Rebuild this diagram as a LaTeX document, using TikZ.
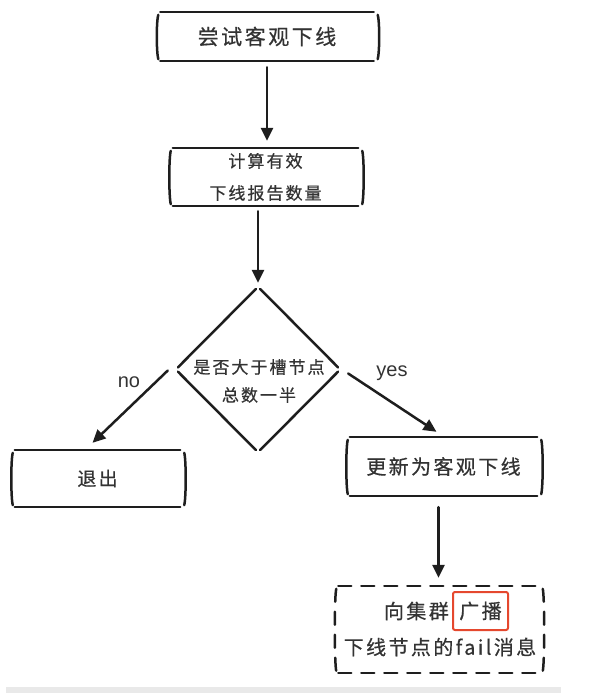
\documentclass[tikz,border=0pt]{standalone}
\usepackage{fontspec}
\setmainfont{Liberation Sans}
\newfontfamily\cjk[LetterSpace=12,FakeBold=0.6]{Noto Sans CJK SC}
\usetikzlibrary{arrows.meta,shapes.geometric}
\definecolor{ink}{HTML}{1E1E1E}
\definecolor{txt}{HTML}{333333}
\definecolor{redbox}{HTML}{E5482E}
\definecolor{barg}{HTML}{E9E9E9}
\tikzset{
  inkline/.style={draw=ink,line width=2.5pt,line cap=round},
  arr/.style={inkline,-{Triangle[length=13pt,width=12pt]}},
  skbox/.style={inner sep=0pt,text=txt,align=center},
  lbl/.style={text=txt,font=\fontsize{20}{24}\selectfont}
}
\newcommand\skdraw[2][]{%
  \draw[inkline,#1] (#2.north west) -- (#2.north east);
  \draw[inkline,#1] (#2.south west) -- (#2.south east);
  \draw[inkline,#1] ([xshift=-2pt,yshift=-3pt]#2.north west) .. controls ([xshift=-4pt,yshift=-9pt]#2.north west) and ([xshift=-4pt,yshift=9pt]#2.south west) .. ([xshift=-2pt,yshift=2pt]#2.south west);
  \draw[inkline,#1] ([xshift=4pt,yshift=-3pt]#2.north east) .. controls ([xshift=6pt,yshift=-9pt]#2.north east) and ([xshift=6pt,yshift=9pt]#2.south east) .. ([xshift=4pt,yshift=2pt]#2.south east);
}
\begin{document}
\begin{tikzpicture}[x=1pt,y=-1pt]
\useasboundingbox (0,0) rectangle (604,694);
\fill[barg] (6,687) rectangle (561,693);

% boxes
\node[skbox,minimum width=213pt,minimum height=49pt,font=\cjk\fontsize{21}{26}\selectfont] (b1) at (267,36.5) {尝试客观下线};
\skdraw{b1}
\node[skbox,minimum width=185pt,minimum height=58pt,font=\cjk\fontsize{17}{32}\selectfont] (b2) at (265.5,177) {计算有效\\下线报告数量};
\skdraw{b2}
\node[draw=none,shape=diamond,minimum width=164pt,minimum height=165pt,inner sep=0pt] (d) at (258,369.5) {};
\draw[inkline,shorten <=3pt,shorten >=3pt] (d.north) -- (d.west);
\draw[inkline,shorten <=3pt,shorten >=3pt] (d.west) -- (d.south);
\draw[inkline,shorten <=3pt,shorten >=3pt] (d.south) -- (d.east);
\draw[inkline,shorten <=3pt,shorten >=3pt] (d.east) -- (d.north);
\node[skbox,font=\cjk\fontsize{17}{28}\selectfont] (dt) at (259,381) {是否大于槽节点\\总数一半};
\node[skbox,minimum width=165pt,minimum height=57pt,font=\cjk\fontsize{19}{24}\selectfont] (ex) at (97.5,478.5) {退出};
\skdraw{ex}
\node[skbox,minimum width=187pt,minimum height=59pt,font=\cjk\fontsize{20}{24}\selectfont] (up) at (443.5,466.5) {更新为客观下线};
\skdraw{up}
\node[skbox,minimum width=200pt,minimum height=87pt] (db) at (438.5,629.5) {};
\skdraw[dash pattern=on 13pt off 10pt]{db}
\node[draw=redbox,line width=2pt,rounded corners=2pt,minimum width=55pt,minimum height=38pt,inner sep=0pt,text=txt,font=\cjk\fontsize{20}{24}\selectfont] (bc) at (480.5,611) {广播};
\node[skbox,anchor=east,font=\cjk\fontsize{20}{24}\selectfont] (q1) at ([xshift=-3pt]bc.west) {向集群};
\node[skbox,font=\cjk\fontsize{20}{24}\selectfont] (q2) at (440,647) {下线节点的fail消息};

% connectors
\draw[arr,shorten <=6pt,shorten >=7pt] (b1.south) -- (b1.south |- b2.north);
\draw[arr,shorten <=5pt,shorten >=4pt] (b2.south -| d.north) -- (d.north);
\draw[arr] ([xshift=-8pt,yshift=-1pt]d.west) -- ([xshift=-5pt,yshift=7pt]ex.north);
\draw[arr] ([xshift=8pt,yshift=-4pt]d.east) -- ([xshift=-7pt,yshift=5pt]up.north);
\draw[arr,shorten <=11pt,shorten >=8pt] (up.south -| db.north) -- (db.north);
\node[lbl] (no) at (129,382) {no};
\node[lbl] (yes) at (392,373) {yes};
\end{tikzpicture}
\end{document}
